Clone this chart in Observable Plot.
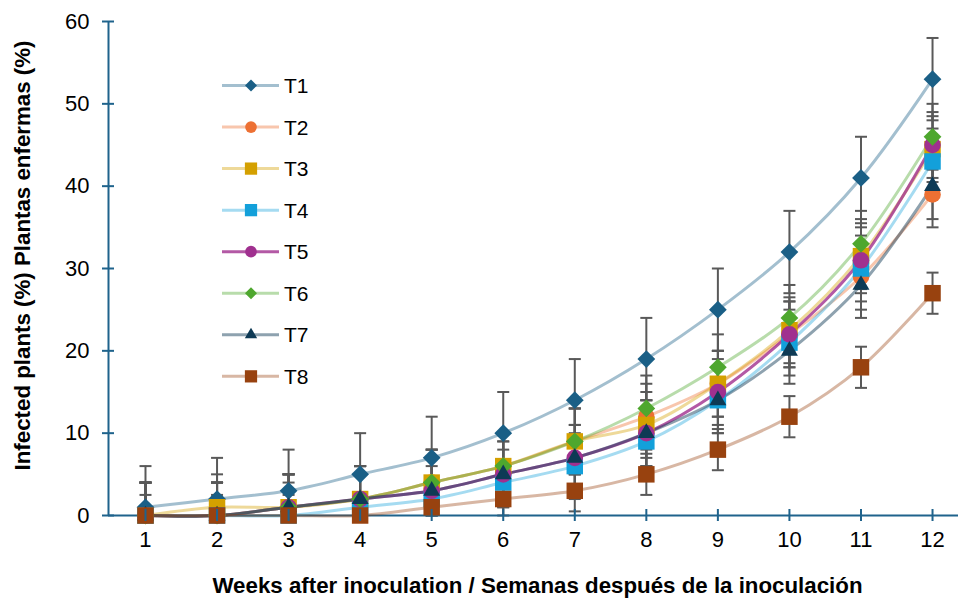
<!DOCTYPE html>
<html>
<head>
<meta charset="utf-8">
<script src="https://cdn.jsdelivr.net/npm/d3@7"></script>
<script src="https://cdn.jsdelivr.net/npm/@observablehq/plot@0.6"></script>
<style>
  html, body { margin: 0; padding: 0; background: #fff; }
  svg { display: block; }
  svg text.legend-label { font-size: 21px !important; font-family: 'Liberation Sans', Arial, sans-serif; }
</style>
</head>
<body>
<div id="chart"></div>
<script>
// ---- data ----
const weeks = [1, 2, 3, 4, 5, 6, 7, 8, 9, 10, 11, 12];
const seriesNames = ["T1", "T2", "T3", "T4", "T5", "T6", "T7", "T8"];
const T1 = [1, 2, 3, 5, 7, 10, 14, 19, 25, 32, 41, 53];
const T2 = [0, 0, 1, 2, 4, 6, 9, 12, 16, 22, 29, 39];
const T3 = [0, 1, 1, 2, 4, 6, 9, 11, 16, 22.5, 31.5, 44.5];
const T4 = [0, 0, 0, 1, 2, 4, 6, 9, 14, 21, 30, 43];
const T5 = [0, 0, 1, 2, 3, 5, 7, 10, 15, 22, 31, 45];
const T6 = [0, 0, 1, 2, 4, 6, 9, 13, 18, 24, 33, 46];
const T7 = [0, 0, 1, 2, 3, 5, 7, 10, 14, 20, 28, 40];
const T8 = [0, 0, 0, 0, 1, 2, 3, 5, 8, 12, 18, 27];
const errors = [5, 4, 4, 4, 4, 4, 4, 2.5]; // ± error per series
const yTicks = [0, 10, 20, 30, 40, 50, 60];
const xTitle = "Weeks after inoculation / Semanas después de la inoculación";
const yTitle = "Infected plants (%) Plantas enfermas (%)";

// ---- styles ----
const markerColors = ["#1a5f86", "#ed7033", "#d4a000", "#13a0da", "#a0308f", "#4ea72e", "#0e3a55", "#98420f"];
const lineOpacity = [0.4, 0.4, 0.4, 0.38, 0.8, 0.4, 0.47, 0.38];
const symbols = ["diamond2", "circle", "square", "square", "circle", "diamond2", "triangle", "square"];
const radii = { diamond2: 8, circle: 8.3, square: 9.3, triangle: 6.3 };
const legendSizes = { diamond2: 92, circle: 107, square: 150, triangle: 66 };
const axisColor = "#1f638c";
const errColor = "#595959";
const font = "'Liberation Sans', Arial, sans-serif";

const values = [T1, T2, T3, T4, T5, T6, T7, T8];
const data = [];
seriesNames.forEach((s, i) => {
  weeks.forEach((w, j) => {
    const v = values[i][j];
    data.push({ series: s, idx: i, week: w, value: v, lo: v - errors[i], hi: v + errors[i] });
  });
});

const xDomain = [0.483, 12.363];

const capSymbol = {
  draw(ctx, size) {
    const w = 6;
    ctx.moveTo(-w, 0);
    ctx.lineTo(w, 0);
  }
};

const caps = [];
data.forEach(d => {
  caps.push({ week: d.week, y: d.hi });
  if (d.lo >= 0) caps.push({ week: d.week, y: d.lo });
});

const marks = [];
// error bars
marks.push(Plot.ruleX(data, { x: "week", y1: d => Math.max(0, d.lo), y2: "hi", stroke: errColor, strokeWidth: 2 }));
marks.push(Plot.dot(caps, { x: "week", y: "y", symbol: capSymbol, r: 6, stroke: errColor, strokeWidth: 2, fill: "none" }));
// axis lines
marks.push(Plot.ruleX([xDomain[0]], { stroke: axisColor, strokeWidth: 2 }));
marks.push(Plot.ruleY([0], { stroke: axisColor, strokeWidth: 2 }));
// series lines
seriesNames.forEach((s, i) => {
  marks.push(Plot.line(data.filter(d => d.idx === i), {
    x: "week", y: "value", stroke: markerColors[i], strokeOpacity: lineOpacity[i],
    strokeWidth: 3, curve: "catmull-rom"
  }));
});
// markers
seriesNames.forEach((s, i) => {
  marks.push(Plot.dot(data.filter(d => d.idx === i), {
    x: "week", y: "value", symbol: symbols[i], r: radii[symbols[i]], fill: markerColors[i], stroke: "none"
  }));
});
// axes
marks.push(Plot.axisY(yTicks, { tickSize: 12, dx: 6, tickPadding: 13, stroke: axisColor, strokeWidth: 2, fill: "#000", fontSize: 22, label: null }));
marks.push(Plot.axisX(weeks, { tickSize: 12, dy: -6, tickPadding: 10, stroke: axisColor, strokeWidth: 2, fill: "#000", fontSize: 22, tickFormat: d => String(d), label: null }));
// titles
marks.push(Plot.text([yTitle], { text: d => d, frameAnchor: "left", textAnchor: "middle", rotate: -90, dx: -86, dy: -13, fontWeight: "bold", fontSize: 22.3, fill: "#000", lineAnchor: "middle" }));
marks.push(Plot.text([xTitle], { text: d => d, frameAnchor: "bottom", textAnchor: "middle", dx: 4, dy: 70, fontWeight: "bold", fontSize: 22.3, fill: "#000", lineAnchor: "middle" }));

const chart = Plot.plot({
  width: 959,
  height: 600,
  marginLeft: 108,
  marginRight: 1,
  marginTop: 21,
  marginBottom: 85,
  x: { domain: xDomain },
  y: { domain: [0, 60] },
  style: { fontFamily: font, fontSize: "22px", color: "#000", background: "#fff", overflow: "visible" },
  marks
});

// ---- legend ----
const svg = d3.select(chart);
const legend = svg.append("g");
const symMap = { diamond2: d3.symbolDiamond2, circle: d3.symbolCircle, square: d3.symbolSquare, triangle: d3.symbolTriangle };
seriesNames.forEach((s, i) => {
  const cy = 85.5 + i * 41.55;
  const g = legend.append("g").attr("transform", `translate(0,${cy})`);
  g.append("line").attr("x1", 222).attr("x2", 279).attr("y1", 0).attr("y2", 0)
    .attr("stroke", markerColors[i]).attr("stroke-opacity", lineOpacity[i]).attr("stroke-width", 3);
  g.append("path").attr("transform", "translate(251,0)")
    .attr("d", d3.symbol(symMap[symbols[i]], legendSizes[symbols[i]])())
    .attr("fill", markerColors[i]);
  g.append("text").attr("class", "legend-label")
    .attr("x", 284).attr("y", 0).attr("dy", "0.36em")
    .attr("text-anchor", "start")
    .style("font-size", "21px").style("font-family", font)
    .attr("fill", "#000").text(s);
});

document.getElementById("chart").appendChild(chart);
</script>
</body>
</html>
